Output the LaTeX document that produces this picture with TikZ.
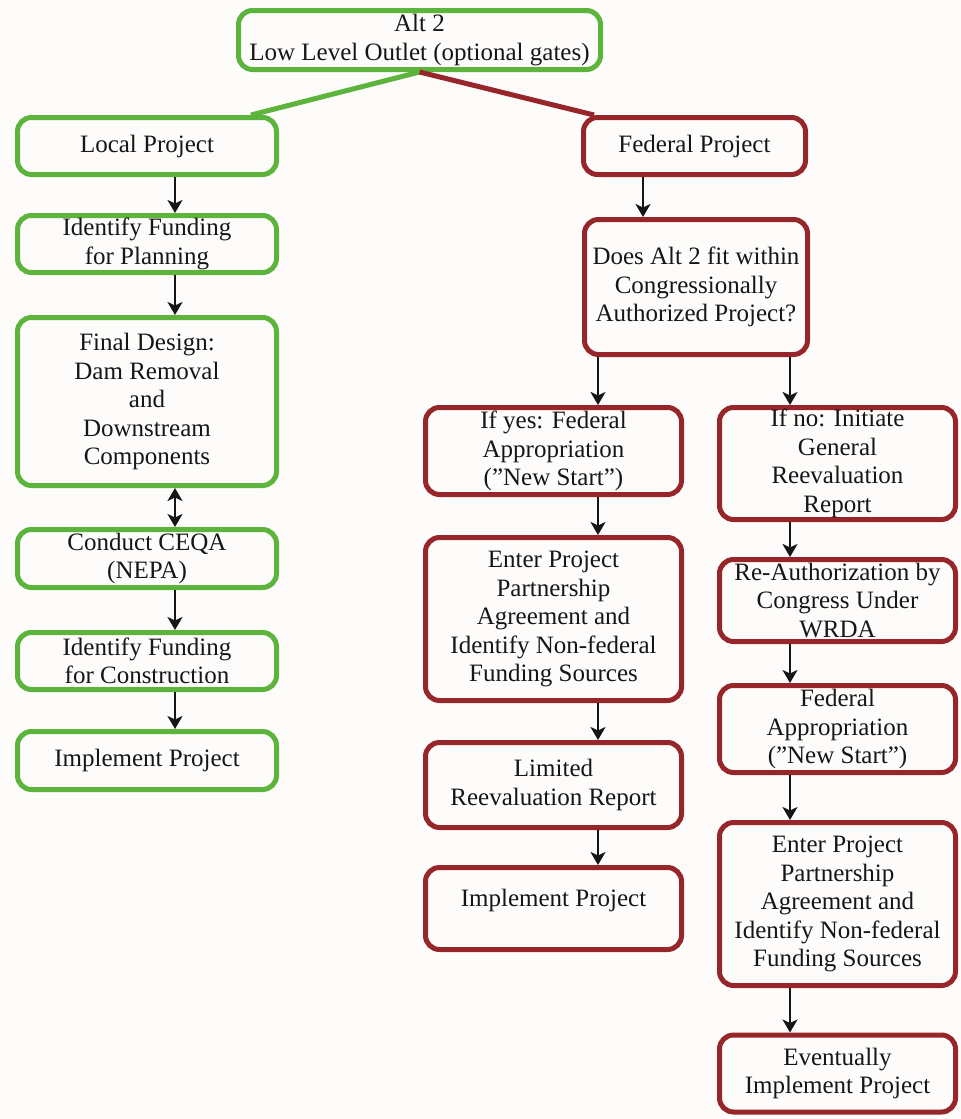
\documentclass[tikz,border=0pt]{standalone}
\usepackage{fontspec}
\setmainfont{Liberation Serif}
\usetikzlibrary{arrows.meta}

\definecolor{grn}{RGB}{92,180,60}
\definecolor{brn}{RGB}{150,38,42}
\definecolor{ink}{RGB}{22,22,22}
\definecolor{paper}{RGB}{253,252,250}

\begin{document}
\begin{tikzpicture}[x=1pt,y=-1pt,
  box/.style={draw, line width=5pt, rounded corners=14pt, align=center,
    inner sep=0pt, text=ink, fill=paper,
    font=\fontsize{25}{28.5}\selectfont},
  loc/.style={box, draw=grn},
  fedb/.style={box, draw=brn},
  flow/.style={draw=ink, line width=2.6pt,
    -{Stealth[length=13pt,width=15pt,inset=3.5pt]}},
  twoway/.style={draw=ink, line width=2.6pt,
    {Stealth[length=13pt,width=15pt,inset=3.5pt]}-{Stealth[length=13pt,width=15pt,inset=3.5pt]}},
]
% page
\fill[paper] (0,0) rectangle (961,1119);
\useasboundingbox (0,0) rectangle (961,1119);

% column guides for the vertical connectors
\coordinate (cL) at (175,0);
\coordinate (cF) at (643,0);
\coordinate (cM) at (598,0);
\coordinate (cR) at (790,0);

% root
\node[loc, minimum width=362pt, minimum height=59pt] (root) at (419.5,40)
  {Alt 2\\Low Level Outlet (optional gates)};

% local branch
\node[loc, minimum width=259pt, minimum height=57pt] (local) at (147,146) {Local Project};
\node[loc, minimum width=259pt, minimum height=57pt] (idplan) at (147,244) {Identify Funding\\for Planning};
\node[loc, minimum width=259pt, minimum height=168pt] (final) at (147,401.5)
  {Final Design:\\Dam Removal\\and\\Downstream\\Components};
\node[loc, minimum width=259pt, minimum height=58pt] (ceqa) at (147,558.5) {Conduct CEQA\\(NEPA)};
\node[loc, minimum width=259pt, minimum height=57pt] (idcons) at (147,661) {Identify Funding\\for Construction};
\node[loc, minimum width=259pt, minimum height=58pt] (impl) at (147,760.5) {Implement Project};

% federal branch
\node[fedb, minimum width=222pt, minimum height=57pt] (fed) at (694.5,146) {Federal Project};
\node[fedb, minimum width=223pt, minimum height=135pt] (does) at (696,287)
  {Does Alt 2 fit within\\Congressionally\\Authorized Project?};

% yes path
\node[fedb, minimum width=256pt, minimum height=87pt] (yes) at (553.5,451)
  {If yes: Federal\\Appropriation\\(”New Start”)};
\node[fedb, minimum width=256pt, minimum height=163pt] (enterL) at (553.5,619)
  {Enter Project\\Partnership\\Agreement and\\Identify Non-federal\\Funding Sources};
\node[fedb, minimum width=256pt, minimum height=85pt] (limited) at (553.5,785)
  {Limited\\Reevaluation Report};
\node[fedb, minimum width=256pt, minimum height=82pt, text depth=22pt] (implM) at (553.5,908.5)
  {Implement Project};

% no path
\node[fedb, minimum width=236pt, minimum height=112pt] (no) at (837.5,463.5)
  {If no: Initiate\\General\\Reevaluation\\Report};
\node[fedb, minimum width=236pt, minimum height=82pt] (reauth) at (837.5,600.5)
  {Re-Authorization by\\Congress Under\\WRDA};
\node[fedb, minimum width=236pt, minimum height=87pt] (fedapp) at (837.5,729)
  {Federal\\Appropriation\\(”New Start”)};
\node[fedb, minimum width=236pt, minimum height=163pt] (enterR) at (837.5,904)
  {Enter Project\\Partnership\\Agreement and\\Identify Non-federal\\Funding Sources};
\node[fedb, minimum width=236pt, minimum height=77pt] (event) at (837.5,1073.5)
  {Eventually\\Implement Project};

% branch lines from the root
\draw[grn, line width=5pt] (root.south) -- ([xshift=-28pt]local.north east);
\draw[brn, line width=5pt] (root.south) -- ([xshift=13pt]fed.north west);

% local flow
\draw[flow] (local.south -| cL) -- (idplan.north -| cL);
\draw[flow] (idplan.south -| cL) -- (final.north -| cL);
\draw[twoway] (final.south -| cL) -- (ceqa.north -| cL);
\draw[flow] (ceqa.south -| cL) -- (idcons.north -| cL);
\draw[flow] (idcons.south -| cL) -- (impl.north -| cL);

% federal flow
\draw[flow] (fed.south -| cF) -- (does.north -| cF);
\draw[flow] (does.south -| cM) -- (yes.north -| cM);
\draw[flow] (does.south -| cR) -- (no.north -| cR);
\draw[flow] (yes.south -| cM) -- (enterL.north -| cM);
\draw[flow] (enterL.south -| cM) -- (limited.north -| cM);
\draw[flow] (limited.south -| cM) -- (implM.north -| cM);
\draw[flow] (no.south -| cR) -- (reauth.north -| cR);
\draw[flow] (reauth.south -| cR) -- (fedapp.north -| cR);
\draw[flow] (fedapp.south -| cR) -- (enterR.north -| cR);
\draw[flow] (enterR.south -| cR) -- (event.north -| cR);
\end{tikzpicture}
\end{document}
